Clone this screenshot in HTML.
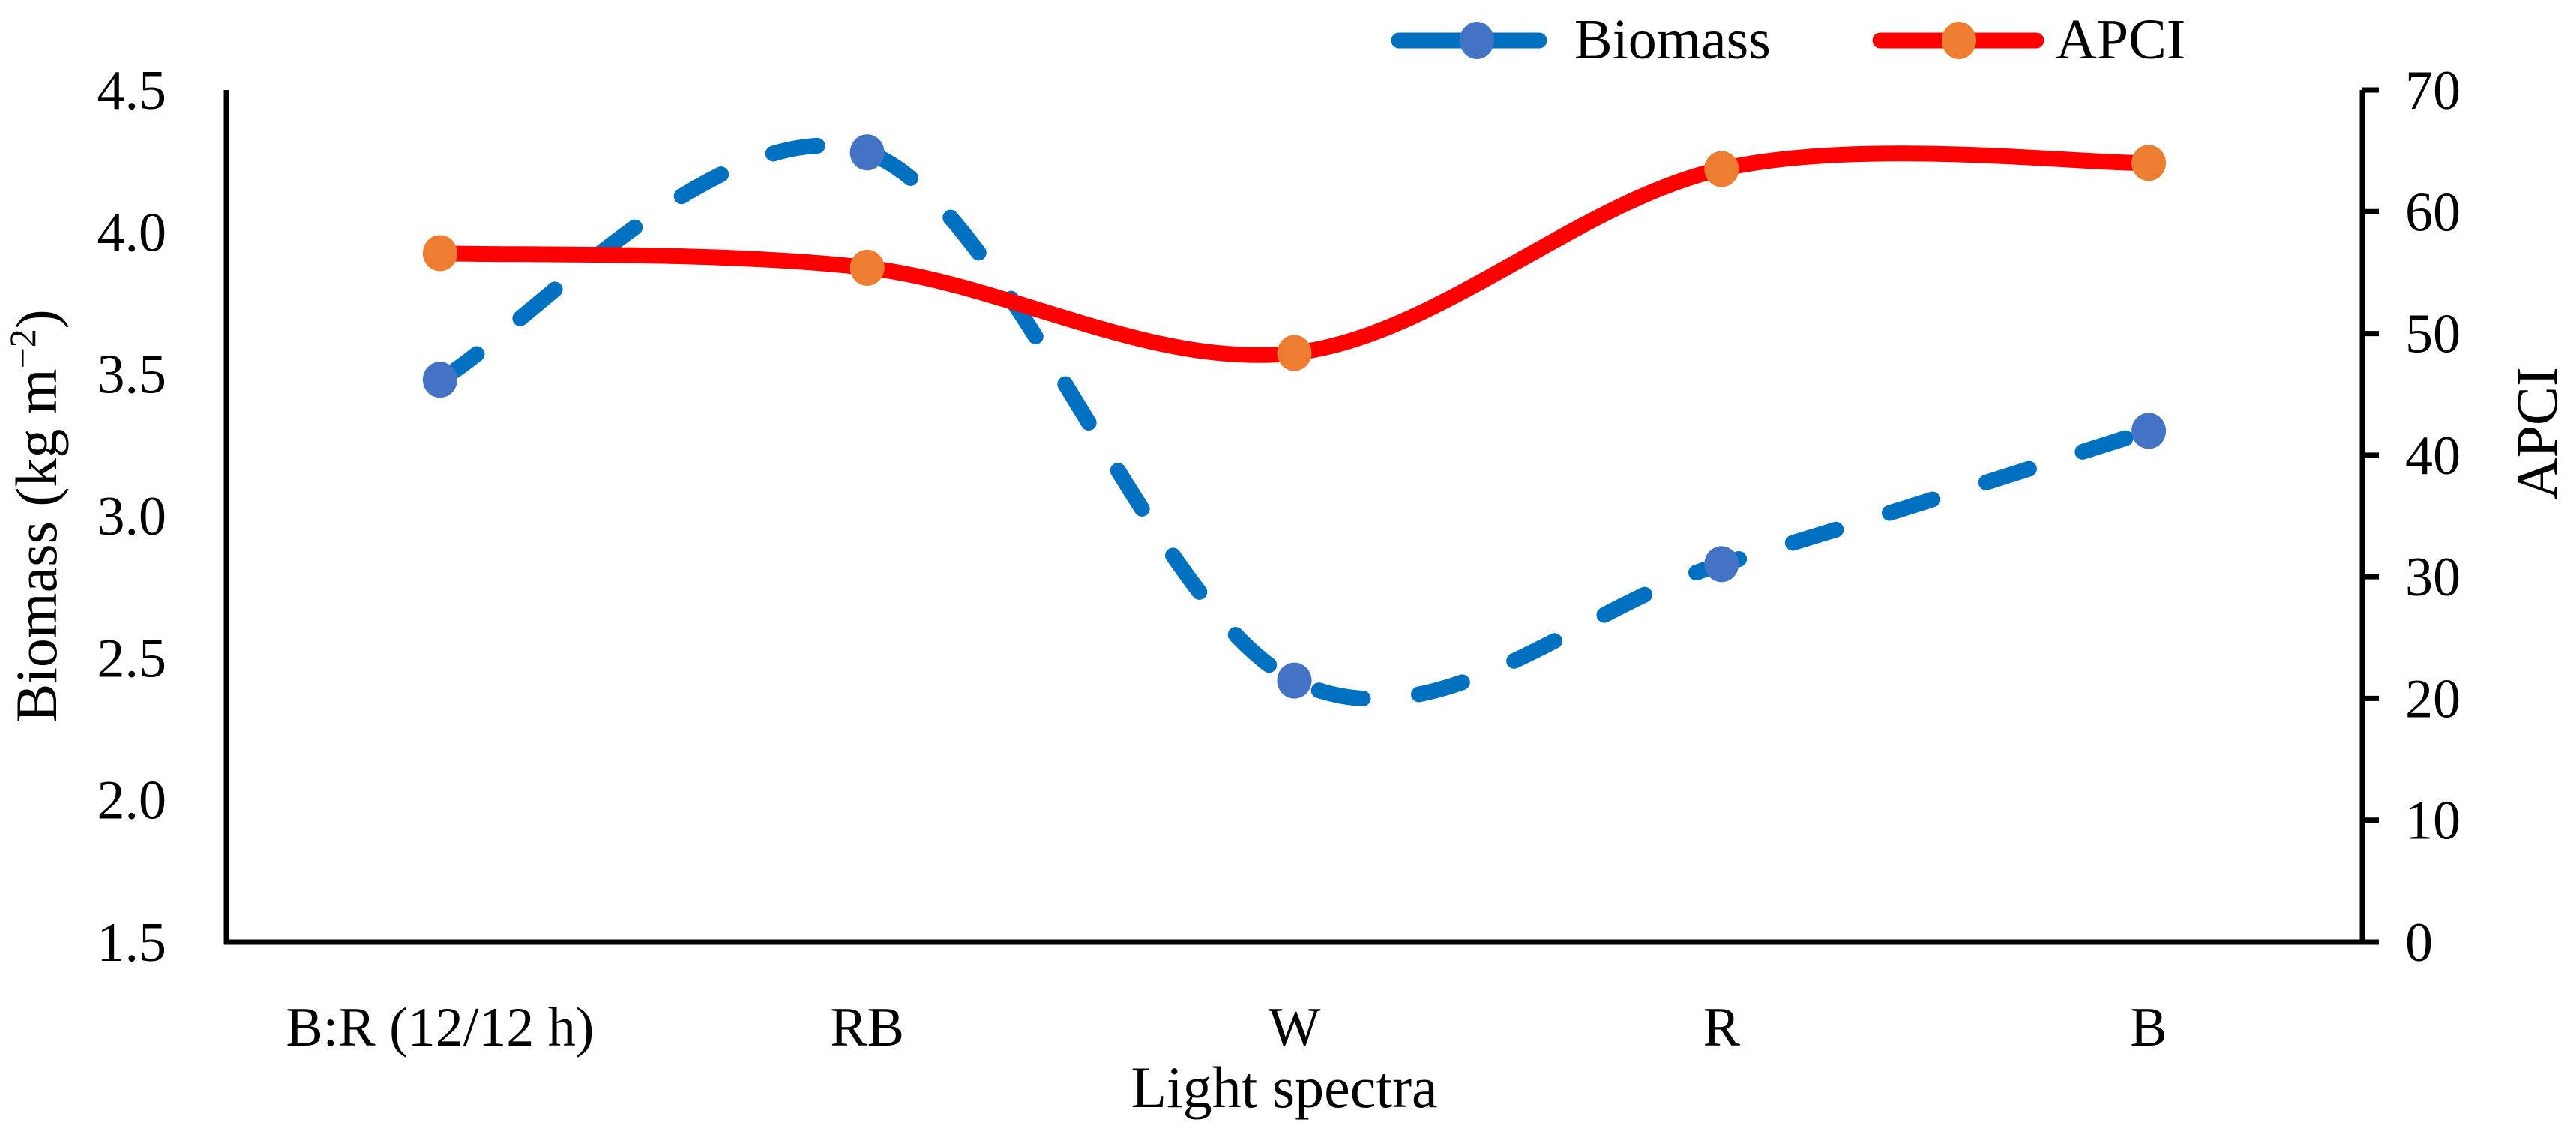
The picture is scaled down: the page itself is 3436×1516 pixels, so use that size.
<!DOCTYPE html>
<html><head><meta charset="utf-8"><style>
html,body{margin:0;padding:0;background:#fff;}
svg{display:block;}
text{font-family:"Liberation Serif",serif;fill:#000;}
</style></head><body>
<svg id="chart" width="3436" height="1516" viewBox="0 0 3436 1516" xmlns="http://www.w3.org/2000/svg">
<g id="axes"></g>
<g id="series"></g>
<g id="legend">
  <line x1="1866" y1="54" x2="2053" y2="54" stroke="#0070C0" stroke-width="21" stroke-linecap="round"/>
  <ellipse cx="1970" cy="54" rx="23" ry="25" fill="#4472C4"/>
  <text x="2100" y="78" font-size="76">Biomass</text>
  <line x1="2508" y1="54" x2="2716" y2="54" stroke="#FF0000" stroke-width="21" stroke-linecap="round"/>
  <ellipse cx="2613" cy="54" rx="23" ry="25" fill="#ED7D31"/>
  <text x="2742" y="78" font-size="76">APCI</text>
</g>
</svg>
<script>
const categories = ["B:R (12/12 h)", "RB", "W", "R", "B"];
const biomass = [3.48, 4.28, 2.42, 2.83, 3.30];
const apci = [56.6, 55.4, 48.4, 63.5, 64.0];
const leftTicks = ["1.5","2.0","2.5","3.0","3.5","4.0","4.5"];
const rightTicks = ["0","10","20","30","40","50","60","70"];

const NS = "http://www.w3.org/2000/svg";
const X0 = 302, X1 = 3151, YT = 120, YB = 1256;
const xPos = i => X0 + (X1 - X0) * (i + 0.5) / categories.length;
const yL = v => YB - (v - 1.5) / 3.0 * (YB - YT);
const yR = v => YB - v / 70 * (YB - YT);
function mk(tag, attrs, parent) {
  const e = document.createElementNS(NS, tag);
  for (const k in attrs) e.setAttribute(k, attrs[k]);
  parent.appendChild(e);
  return e;
}
const axes = document.getElementById('axes');
const series = document.getElementById('series');

let e = mk('line', {x1: X0, y1: YT, x2: X0, y2: YB + 3, stroke: '#000', 'stroke-width': 7}, axes);


e = mk('line', {x1: X0 - 3, y1: YB, x2: X1 + 22, y2: YB, stroke: '#000', 'stroke-width': 7}, axes);


e = mk('line', {x1: X1, y1: YT, x2: X1, y2: YB, stroke: '#000', 'stroke-width': 7}, axes);



leftTicks.forEach(t => {
  const y = yL(parseFloat(t));
  const tx = mk('text', {x: 222, y: y + 25, 'font-size': 74, 'text-anchor': 'end'}, axes);
  tx.textContent = t;
  
  
});
rightTicks.forEach(t => {
  const y = yR(parseFloat(t));
  const tk = mk('line', {x1: X1, y1: y, x2: X1 + 22, y2: y, stroke: '#000', 'stroke-width': 7}, axes);
  
  
  const tx = mk('text', {x: 3208, y: y + 25, 'font-size': 74}, axes);
  tx.textContent = t;
  
  
});
categories.forEach((c, i) => {
  const tx = mk('text', {x: xPos(i), y: 1394, 'font-size': 74, 'text-anchor': 'middle'}, axes);
  tx.textContent = c;
  
  
});
e = mk('text', {x: 1713, y: 1476, 'font-size': 78, 'text-anchor': 'middle'}, axes);
e.textContent = 'Light spectra';


e = mk('text', {x: 0, y: 0, 'font-size': 78, 'text-anchor': 'middle', transform: 'translate(75,688) rotate(-90)'}, axes);
e.innerHTML = 'Biomass (kg m<tspan baseline-shift="super" font-size="50">\u22122</tspan>)';


e = mk('text', {x: 0, y: 0, 'font-size': 78, 'text-anchor': 'middle', transform: 'translate(3410,578) rotate(-90)'}, axes);
e.textContent = 'APCI';



function smooth(pts) {
  let d = `M${pts[0][0]},${pts[0][1]}`;
  for (let i = 0; i < pts.length - 1; i++) {
    const p0 = pts[Math.max(i - 1, 0)], p1 = pts[i], p2 = pts[i + 1], p3 = pts[Math.min(i + 2, pts.length - 1)];
    const c1 = [p1[0] + (p2[0] - p0[0]) / 6, p1[1] + (p2[1] - p0[1]) / 6];
    const c2 = [p2[0] - (p3[0] - p1[0]) / 6, p2[1] - (p3[1] - p1[1]) / 6];
    d += ` C${c1[0]},${c1[1]} ${c2[0]},${c2[1]} ${p2[0]},${p2[1]}`;
  }
  return d;
}
const bPts = biomass.map((v, i) => [xPos(i), yL(v)]);
const aPts = apci.map((v, i) => [xPos(i), yR(v)]);

e = mk('path', {d: smooth(bPts), fill: 'none', stroke: '#0070C0', 'stroke-width': 21, 'stroke-dasharray': '60 75', 'stroke-linecap': 'round'}, series);


e = mk('path', {d: smooth(aPts), fill: 'none', stroke: '#FF0000', 'stroke-width': 21, 'stroke-linecap': 'round'}, series);


bPts.forEach(p => {
  const m = mk('ellipse', {cx: p[0], cy: p[1], rx: 23, ry: 24, fill: '#4472C4'}, series);
  
  
});
aPts.forEach(p => {
  const m = mk('ellipse', {cx: p[0], cy: p[1], rx: 23, ry: 24, fill: '#ED7D31'}, series);
  
  
});
</script>
</body></html>
